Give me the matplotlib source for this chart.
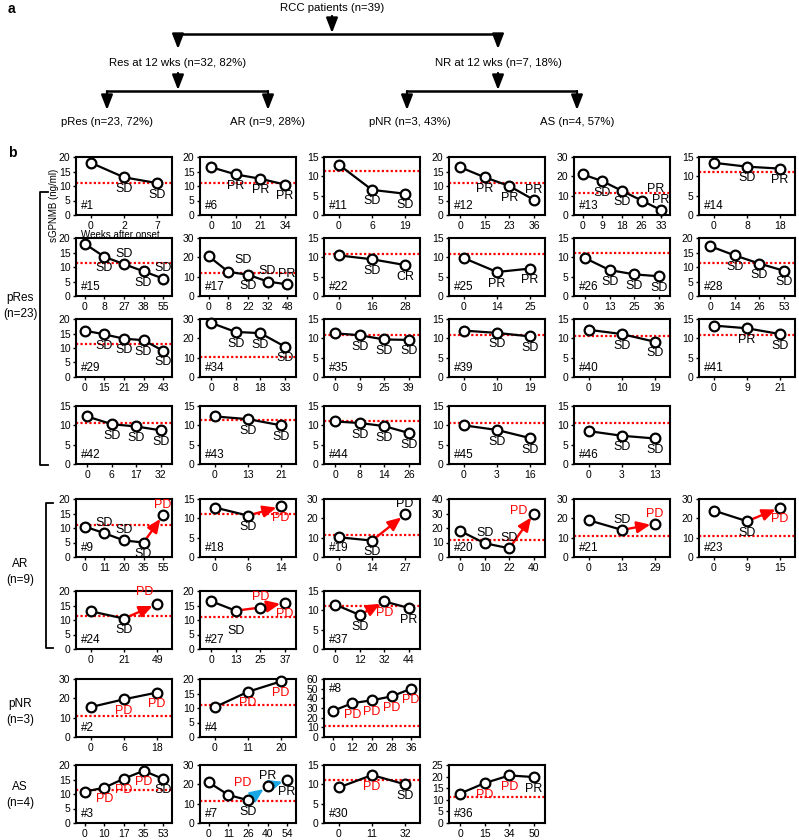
import matplotlib
matplotlib.use('agg')
import matplotlib.pyplot as plt
import numpy as np

plt.rcParams['font.family'] = ['Liberation Sans', 'DejaVu Sans']

######## data ########
ids = ['#1', '#6', '#11', '#12', '#13', '#14',
       '#15', '#17', '#22', '#25', '#26', '#28',
       '#29', '#34', '#35', '#39', '#40', '#41',
       '#42', '#43', '#44', '#45', '#46',
       '#9', '#18', '#19', '#20', '#21', '#23',
       '#24', '#27', '#37',
       '#2', '#4', '#8',
       '#3', '#7', '#30', '#36']

weeks = [[0, 2, 7], [0, 10, 21, 34], [0, 6, 19], [0, 15, 23, 36], [0, 9, 18, 26, 33], [0, 8, 18],
         [0, 8, 27, 38, 55], [0, 8, 22, 32, 48], [0, 16, 28], [0, 14, 25], [0, 13, 25, 36], [0, 14, 26, 53],
         [0, 15, 21, 29, 43], [0, 8, 18, 33], [0, 9, 25, 39], [0, 10, 19], [0, 10, 19], [0, 9, 21],
         [0, 6, 17, 32], [0, 13, 21], [0, 8, 14, 26], [0, 3, 16], [0, 3, 13],
         [0, 11, 20, 35, 55], [0, 6, 14], [0, 14, 27], [0, 10, 22, 40], [0, 13, 29], [0, 9, 15],
         [0, 21, 49], [0, 13, 25, 37], [0, 12, 32, 44],
         [0, 6, 18], [0, 11, 20], [0, 12, 20, 28, 36],
         [0, 10, 17, 35, 53], [0, 11, 26, 40, 54], [0, 11, 32], [0, 15, 34, 50]]

sgpnmb = [[18, 13, 11], [16.5, 14, 12.5, 10.5], [13, 6.5, 5.5], [16.5, 13, 10, 5.2], [21, 17.5, 12.5, 7.5, 2.5], [13.5, 12.5, 12],
          [18, 13.5, 11, 8.5, 6], [20.5, 12.5, 11, 7.5, 6], [10.5, 9.5, 8], [9.8, 6.2, 7.1], [9.8, 6.7, 5.6, 5.1], [17.2, 14, 11.2, 8.7],
          [16, 14.7, 13.2, 12.7, 9], [28, 23.3, 22.7, 15.7], [11.3, 10.8, 9.7, 9.6], [12, 11.4, 10.5], [12.2, 11.1, 9.1], [13.3, 12.6, 11.1],
          [12.3, 10.3, 9.7, 8.7], [12.3, 11.6, 10], [11, 10.6, 9.8, 8], [10, 8.8, 6.7], [8.5, 7.3, 6.6],
          [10.5, 8.2, 5.7, 5, 14.5], [12.8, 10.7, 13.1], [10.2, 8.5, 22], [18, 9.5, 6, 30], [19, 14, 17.2], [24, 18.5, 25.5],
          [13, 10.5, 15.5], [16.5, 13.2, 14.3, 15.9], [11.5, 8.8, 12.3, 10.6],
          [15.5, 19.5, 23], [10.3, 15.6, 19.2], [27, 35, 38, 42, 50],
          [10.8, 12.2, 15.3, 18, 15.2], [21, 14.5, 11.8, 19, 22], [9.2, 12.4, 10], [12.7, 17.2, 20.5, 19.8]]

cutoff = [11, 11.2, 11.5, 11, 11.5, 11,
          11.5, 12, 10.8, 10.8, 11, 11.3,
          11.5, 10.5, 10.8, 10.9, 10.7, 10.8,
          10.7, 11.3, 11, 10.7, 10.7,
          11, 11, 11.5, 12, 11, 11,
          11.5, 11, 11,
          11, 11, 11,
          11.5, 11.5, 11, 11]

ymax = [20, 20, 15, 20, 30, 15,
        20, 30, 15, 15, 15, 20,
        20, 30, 15, 15, 15, 15,
        15, 15, 15, 15, 15,
        20, 15, 30, 40, 30, 30,
        20, 20, 15,
        30, 20, 60,
        20, 30, 15, 25]

status = [['', 'SD', 'SD'], ['', 'PR', 'PR', 'PR'], ['', 'SD', 'SD'], ['', 'PR', 'PR', 'PR'], ['', 'SD', 'SD', 'PR', 'PR'], ['', 'SD', 'PR'],
          ['', 'SD', 'SD', 'SD', 'SD'], ['', 'SD', 'SD', 'SD', 'PR'], ['', 'SD', 'CR'], ['', 'PR', 'PR'], ['', 'SD', 'SD', 'SD'], ['', 'SD', 'SD', 'SD'],
          ['', 'SD', 'SD', 'SD', 'SD'], ['', 'SD', 'SD', 'SD'], ['', 'SD', 'SD', 'SD'], ['', 'SD', 'SD'], ['', 'SD', 'SD'], ['', 'PR', 'SD'],
          ['', 'SD', 'SD', 'SD'], ['', 'SD', 'SD'], ['', 'SD', 'SD', 'SD'], ['', 'SD', 'SD'], ['', 'SD', 'SD'],
          ['', 'SD', 'SD', 'SD', 'PD'], ['', 'SD', 'PD'], ['', 'SD', 'PD'], ['', 'SD', 'SD', 'PD'], ['', 'SD', 'PD'], ['', 'SD', 'PD'],
          ['', 'SD', 'PD'], ['', 'SD', 'PD', 'PD'], ['', 'SD', 'PD', 'PR'],
          ['', 'PD', 'PD'], ['', 'PD', 'PD'], ['', 'PD', 'PD', 'PD', 'PD'],
          ['', 'PD', 'PD', 'PD', 'SD'], ['', 'PD', 'SD', 'PR', 'PR'], ['', 'PD', 'SD'], ['', 'PD', 'PD', 'PR']]

# PD drawn in black instead of red
pd_black = ['#19']

# progression segments drawn as arrows: (start point, colour, arrowhead)
arrows = {'#9': [(3, 'red', True)], '#18': [(1, 'red', True)], '#19': [(1, 'red', True)],
          '#20': [(2, 'red', True)], '#21': [(1, 'red', True)], '#23': [(1, 'red', True)],
          '#24': [(1, 'red', True)], '#27': [(1, 'red', False), (2, 'red', True)],
          '#37': [(1, 'red', True)], '#7': [(2, '#1aa7e6', True), (3, '#1aa7e6', True)]}

# where each status label sits relative to its point (default: below)
label_side = {'#12': {3: 'a'}, '#13': {3: 'ar', 4: 'a'}, '#15': {2: 'a', 4: 'a'},
              '#17': {1: 'ar', 3: 'a', 4: 'a'}, '#9': {1: 'a', 2: 'a', 4: 'a'},
              '#19': {2: 'a'}, '#20': {1: 'a', 2: 'a', 3: 'l'}, '#21': {1: 'a', 2: 'a'},
              '#24': {2: 'al'}, '#27': {1: 'bb', 2: 'a'}, '#7': {1: 'ar', 3: 'a'}}

row_counts = [6, 6, 6, 5, 6, 3, 3, 4]

######## layout (pixels) ########
W, H = 799, 840
col_left = [76, 200, 324, 449, 574, 699]
row_top = [157, 238, 319, 406, 499, 591, 679, 765]
pw, ph = 96, 58

fig = plt.figure(figsize=(W / 100, H / 100), dpi=100)
bg = fig.add_axes([0, 0, 1, 1])
bg.set_xlim(0, W)
bg.set_ylim(H, 0)
bg.axis('off')

def arrow(x0, y0, x1, y1):
    bg.annotate('', xy=(x1, y1), xytext=(x0, y0),
                arrowprops=dict(arrowstyle='-|>,head_length=0.9,head_width=0.35', color='black',
                                lw=1.6, shrinkA=0, shrinkB=0))

# flow chart (panel a)
bg.text(8, 9, 'a', fontsize=10, fontweight='bold', va='center')
bg.text(332, 8, 'RCC patients (n=39)', fontsize=8.2, ha='center', va='center')
arrow(332, 16, 332, 33)
bg.plot([178, 498], [34, 34], color='black', lw=1.8, solid_capstyle='butt')
arrow(178, 34, 178, 49)
arrow(498, 34, 498, 49)
bg.text(178, 63, 'Res at 12 wks (n=32, 82%)', fontsize=8.2, ha='center', va='center')
bg.text(498, 63, 'NR at 12 wks (n=7, 18%)', fontsize=8.2, ha='center', va='center')
arrow(178, 73, 178, 90)
arrow(498, 73, 498, 90)
bg.plot([107, 268], [91, 91], color='black', lw=1.8, solid_capstyle='butt')
bg.plot([407, 577], [91, 91], color='black', lw=1.8, solid_capstyle='butt')
for xx in [107, 268, 407, 577]:
    arrow(xx, 91, xx, 110)
bg.text(107, 122, 'pRes (n=23, 72%)', fontsize=8.2, ha='center', va='center')
bg.text(268, 122, 'AR (n=9, 28%)', fontsize=8.2, ha='center', va='center')
bg.text(410, 122, 'pNR (n=3, 43%)', fontsize=8.2, ha='center', va='center')
bg.text(577, 122, 'AS (n=4, 57%)', fontsize=8.2, ha='center', va='center')

# panel b labels and brackets
bg.text(8, 153, 'b', fontsize=10, fontweight='bold', va='center')
bg.text(54, 205, 'sGPNMB (ng/ml)', fontsize=7, rotation=90, ha='center', va='center')
bg.text(120, 235, 'Weeks after onset', fontsize=7, ha='center', va='center')
for name, yc in [('pRes\n(n=23)', 306), ('AR\n(n=9)', 572), ('pNR\n(n=3)', 712), ('AS\n(n=4)', 795)]:
    bg.text(20, yc, name, fontsize=8.5, ha='center', va='center', linespacing=1.4)
bg.plot([48, 40, 40, 48], [192, 192, 465, 465], color='black', lw=1.3)
bg.plot([53, 46, 46, 53], [503, 503, 648, 648], color='black', lw=1.3)

pos = []
for r, nc in enumerate(row_counts):
    for c in range(nc):
        pos.append((col_left[c], row_top[r]))

offsets = {'b': (0, -4, 'center', 'top'), 'a': (0, 3, 'center', 'bottom'),
           'ar': (4, 4, 'left', 'bottom'), 'al': (-3, 4, 'right', 'bottom'),
           'l': (-5, 2, 'right', 'center'), 'bb': (0, -10, 'center', 'top')}

for k, pid in enumerate(ids):
    x0, y0 = pos[k]
    ax = fig.add_axes([x0 / W, 1 - (y0 + ph) / H, pw / W, ph / H])
    vals = sgpnmb[k]
    n = len(vals)
    xs = np.arange(n)
    segs = {s[0]: s for s in arrows.get(pid, [])}
    ax.axhline(cutoff[k], color='red', ls=(0, (1, 1)), lw=1.6, zorder=1)
    for i in range(n - 1):
        if i in segs:
            _, col, head = segs[i]
            style = '-|>,head_length=0.8,head_width=0.35' if head else '-'
            ax.annotate('', xy=(xs[i + 1], vals[i + 1]), xytext=(xs[i], vals[i]),
                        arrowprops=dict(arrowstyle=style, color=col, lw=1.7,
                                        shrinkA=3.5, shrinkB=3.5 if head else 0), zorder=2)
        else:
            ax.plot(xs[i:i + 2], vals[i:i + 2], color='black', lw=1.6, zorder=2)
    ax.plot(xs, vals, 'o', ms=7, mfc='white', mec='black', mew=1.6, zorder=3, clip_on=False)
    sides = label_side.get(pid, {})
    for i, s in enumerate(status[k]):
        if not s:
            continue
        dx, dy, ha, va = offsets[sides.get(i, 'b')]
        col = 'red' if (s == 'PD' and pid not in pd_black) else 'black'
        ax.annotate(s, (xs[i], vals[i]), xytext=(dx, dy), textcoords='offset points',
                    ha=ha, va=va, fontsize=9, color=col)
    if pid == '#8':
        ax.text(0.05, 0.93, pid, transform=ax.transAxes, fontsize=8.5, va='top')
    else:
        ax.text(0.05, 0.06, pid, transform=ax.transAxes, fontsize=8.5, va='bottom')
    step = 10 if ymax[k] in (30, 40, 60) else 5
    ax.set_ylim(0, ymax[k])
    ax.set_yticks(np.arange(0, ymax[k] + 0.1, step))
    ax.set_xlim(-0.45, n - 0.55)
    ax.set_xticks(xs)
    ax.set_xticklabels([str(w) for w in weeks[k]])
    ax.tick_params(labelsize=7.5, length=2.5, width=1, pad=1.5)
    for sp in ax.spines.values():
        sp.set_linewidth(1.5)

fig.savefig('out.png', dpi=100)
